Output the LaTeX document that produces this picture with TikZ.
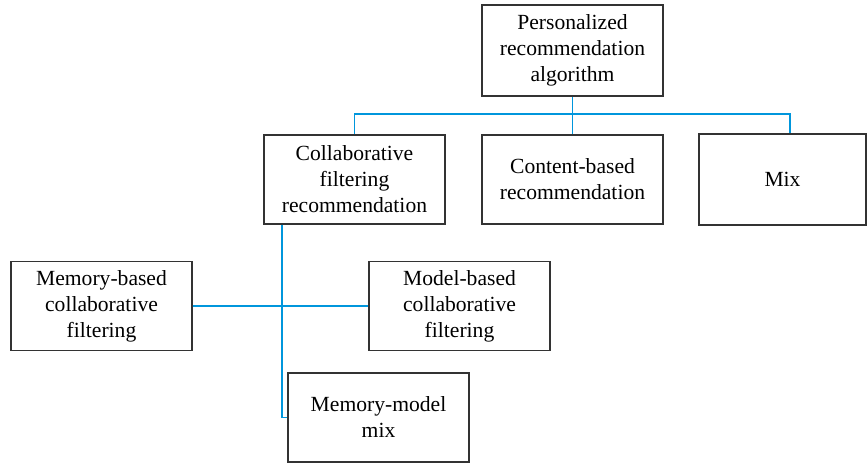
\documentclass[tikz,border=0pt]{standalone}
\usepackage{fontspec}
\setmainfont{Liberation Serif}
\usetikzlibrary{
  calc
}
\definecolor{linkblue}{RGB}{0,150,220}
\tikzset{
  box/.style={
    draw=black!80,
    line width=1.1pt,
    align=center,
    inner sep=0pt,
    minimum width=181pt,
    minimum height=89pt,
    font=\fontsize{21.6}{26}\selectfont
  },
  link/.style={
    draw=linkblue,
    line width=1.1pt
  }
}

\begin{document}
\begin{tikzpicture}[x=1pt,y=-1pt]
\useasboundingbox (0,0) rectangle (868,463);
% top level
\node[box, minimum height=91pt] (algo) at (572.5,50.5) {Personalized\\recommendation\\algorithm};
% second level
\node[box] (cf) at (354.5,179.5) {Collaborative\\filtering\\recommendation};
\node[box] (content) at (572.5,179.5) {Content-based\\recommendation};
\node[box, minimum width=167pt, minimum height=91pt] (mix) at (782.5,179.5) {Mix};
% third level
\node[box] (mem) at (101.5,306) {Memory-based\\collaborative\\filtering};
\node[box] (model) at (459.5,306) {Model-based\\collaborative\\filtering};
\node[box] (mmix) at (378.5,417.5) {Memory-model\\mix};
% connectors
\coordinate (bus) at (572.5,114);
\coordinate (cfbot) at ([xshift=-72.5pt]cf.south);
\draw[link] (algo.south) -- (bus);
\draw[link] (cf.north) |- (bus) -| ([xshift=7.5pt]mix.north);
\draw[link] (bus) -- (content.north);
\draw[link] (cfbot) |- (mmix.west);
\draw[link] (mem.east) -- (model.west);
\end{tikzpicture}
\end{document}
